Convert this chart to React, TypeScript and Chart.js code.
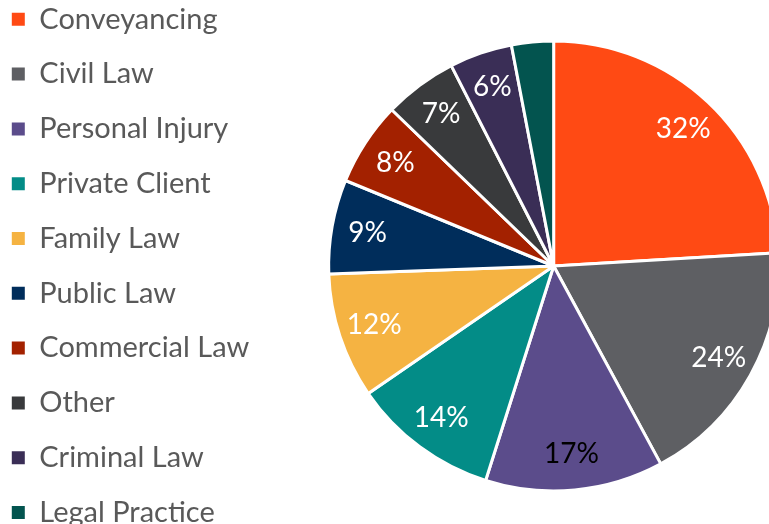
import React, { useEffect, useRef } from "react";
import { Chart, registerables } from "chart.js";

Chart.register(...registerables);

const categories = [
  "Conveyancing",
  "Civil Law",
  "Personal Injury",
  "Private Client",
  "Family Law",
  "Public Law",
  "Commercial Law",
  "Other",
  "Criminal Law",
  "Legal Practice",
];
const shares = [32, 24, 17, 14, 12, 9, 8, 7, 6, 4];
const sliceLabels = ["32%", "24%", "17%", "14%", "12%", "9%", "8%", "7%", "6%", ""];
const sliceColors = [
  "#FF4A14",
  "#5E5F63",
  "#5B4C8B",
  "#038C87",
  "#F5B342",
  "#002D5B",
  "#A32100",
  "#393A3C",
  "#3A2E56",
  "#03544F",
];
const labelColors = ["#FFFFFF", "#FFFFFF", "#000000", "#FFFFFF", "#FFFFFF", "#FFFFFF", "#FFFFFF", "#FFFFFF", "#FFFFFF", "#FFFFFF"];

const FONT = "Lato, 'Open Sans', sans-serif";
const FS = 29;
const PAD = 25.8;
const CANVAS_W = 862;
const CANVAS_H = 574;

const sliceLabelPlugin = {
  id: "sliceLabels",
  afterDatasetsDraw(chart: any) {
    const ctx = chart.ctx;
    const meta = chart.getDatasetMeta(0);
    ctx.save();
    ctx.font = `${FS - 1}px ${FONT}`;
    ctx.textAlign = "center";
    ctx.textBaseline = "middle";
    meta.data.forEach((arc: any, i: number) => {
      const text = sliceLabels[i];
      if (!text) return;
      const { x, y, startAngle, endAngle, outerRadius } = arc.getProps(
        ["x", "y", "startAngle", "endAngle", "outerRadius"],
        true
      );
      const mid = (startAngle + endAngle) / 2;
      const r = outerRadius * 0.84;
      ctx.fillStyle = labelColors[i];
      ctx.fillText(text, x + Math.cos(mid) * r, y + Math.sin(mid) * r);
    });
    ctx.restore();
  },
};

export default function App() {
  const ref = useRef<HTMLCanvasElement | null>(null);

  useEffect(() => {
    if (!ref.current) return;
    const chart = new Chart(ref.current, {
      type: "pie",
      data: {
        labels: categories,
        datasets: [
          {
            data: shares,
            backgroundColor: sliceColors,
            borderColor: "#FFFFFF",
            borderWidth: 3,
          },
        ],
      },
      options: {
        animation: false,
        responsive: false,
        radius: 225,
        layout: { padding: 0 },
        plugins: {
          legend: {
            position: "left",
            align: "start",
            labels: {
              boxWidth: 13,
              boxHeight: 13,
              padding: PAD,
              color: "#595959",
              font: { family: FONT, size: FS },
              generateLabels: (c: any) =>
                (Chart as any).overrides.pie.plugins.legend.labels
                  .generateLabels(c)
                  .map((l: any) => ({ ...l, lineWidth: 0, strokeStyle: "rgba(0,0,0,0)" })),
            },
          },
          tooltip: { enabled: false },
        },
      } as any,
      plugins: [sliceLabelPlugin],
    });
    return () => chart.destroy();
  }, []);

  return (
    <div
      style={{
        position: "absolute",
        left: 0,
        top: 0,
        width: 769,
        height: 524,
        overflow: "hidden",
        background: "#FFFFFF",
      }}
    >
      <canvas
        ref={ref}
        width={CANVAS_W}
        height={CANVAS_H}
        style={{
          position: "absolute",
          left: 12 - PAD,
          top: 19 - PAD - FS / 2,
          width: CANVAS_W,
          height: CANVAS_H,
        }}
      />
    </div>
  );
}
